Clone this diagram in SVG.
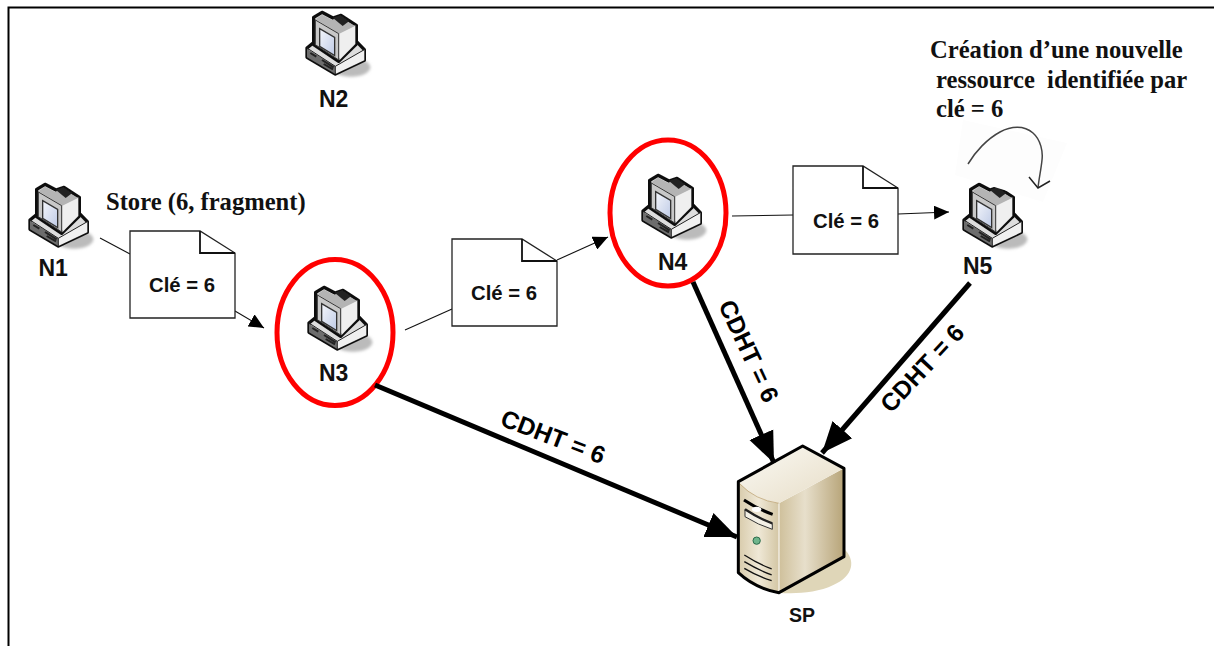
<svg xmlns="http://www.w3.org/2000/svg" width="1214" height="646" viewBox="0 0 1214 646">
<style>
.lab{font-family:"Liberation Sans",Arial,sans-serif;font-weight:700;font-size:23px;fill:#111}
.key{font-family:"Liberation Sans",Arial,sans-serif;font-weight:700;font-size:20.3px;fill:#111}
.cdht{font-family:"Liberation Sans",Arial,sans-serif;font-weight:700;font-size:24.5px;fill:#000}
.ser{font-family:"Liberation Serif","Times New Roman",serif;font-weight:700;font-size:24.6px;fill:#111;white-space:pre}
.thin{fill:none;stroke:#111;stroke-width:1.1}
.thick{fill:none;stroke:#000;stroke-width:5}
.doc{fill:#fff;stroke:#222;stroke-width:1.3}
.fold{fill:none;stroke:#111;stroke-width:1.8}
.ring{fill:#fff;stroke:#f00;stroke-width:5}
</style>
<defs>
<marker id="ah" markerUnits="userSpaceOnUse" markerWidth="16" markerHeight="14" refX="15" refY="7" orient="auto"><path d="M0 0L15 7L0 14Z" fill="#000"/></marker>
<marker id="AH" markerUnits="userSpaceOnUse" markerWidth="32" markerHeight="28" refX="31" refY="14" orient="auto"><path d="M0 1L31 14L0 27Z" fill="#000"/></marker>
<linearGradient id="scr" x1="0" y1="0" x2="1" y2="1"><stop offset="0" stop-color="#f4f6fb"/><stop offset="1" stop-color="#bfcbe6"/></linearGradient>
<linearGradient id="sR" x1="0" y1="0" x2="1" y2="0"><stop offset="0" stop-color="#cfc09b"/><stop offset=".4" stop-color="#e7dfcb"/><stop offset="1" stop-color="#b7a478"/></linearGradient>
<linearGradient id="sT" x1="0" y1="0" x2="1" y2="1"><stop offset="0" stop-color="#fbfaf5"/><stop offset="1" stop-color="#e6dcc5"/></linearGradient>
<linearGradient id="sF" x1="0" y1="0" x2="1" y2="0"><stop offset="0" stop-color="#d8cbab"/><stop offset=".5" stop-color="#efe8d6"/><stop offset="1" stop-color="#d3c6a4"/></linearGradient>
<filter id="sb" x="-30%" y="-50%" width="160%" height="200%"><feGaussianBlur stdDeviation="4"/></filter>
<filter id="sf" x="-5%" y="-5%" width="110%" height="110%"><feGaussianBlur stdDeviation="0.5"/></filter>
<g id="pc" transform="translate(0,170) scale(.3333)">
<ellipse cx="222" cy="208" rx="58" ry="28" fill="#bbb" filter="url(#sb)"/>
<g filter="url(#sf)">
<path d="M90 150L112 132L230 122L262 155L262 187L175 228L90 178Z" fill="#ddd" stroke="#111" stroke-width="10" stroke-linejoin="round"/>
<path d="M90 152L175 205L175 228L90 178Z" fill="#6d6d6d"/>
<path d="M175 205L262 155L262 187L175 228Z" fill="#f0f0f0"/>
<path d="M100 165L118 176M135 186L170 208M140 198L168 214" stroke="#222" stroke-width="6" fill="none"/>
<path d="M90 150L175 205L262 155M175 205V228" stroke="#222" stroke-width="3" fill="none"/>
<path d="M110 58L135 43L168 60L192 52L238 82L238 138L185 190L110 140Z" fill="#d8d8d8" stroke="#111" stroke-width="10" stroke-linejoin="round"/>
<path d="M187 105L235 82L235 138L187 187Z" fill="#efefef"/>
<path d="M116 64L135 50L165 66L190 58L234 84L187 107Z" fill="#b4b4b4"/>
<path d="M168 60L190 52L216 70L197 84Z" fill="#222"/>
<path d="M115 66L185 107L185 186L115 140Z" fill="#c8c8c8" stroke="#333" stroke-width="3"/>
<path d="M128 92L173 118L173 173L128 145Z" fill="url(#scr)" stroke="#333" stroke-width="4"/>
</g>
</g>
</defs>
<rect width="1214" height="646" fill="#fff"/>
<path d="M8.5 646V7.5H1214" fill="none" stroke="#000" stroke-width="2"/>

<g id="N1"><use href="#pc"/><text class="lab" x="38.5" y="276">N1</text></g>
<g id="N2"><use href="#pc" transform="translate(277,-172)"/><text class="lab" x="319" y="107">N2</text></g>
<g id="N3"><ellipse class="ring" cx="335" cy="332.5" rx="58" ry="73"/><use href="#pc" transform="translate(279,103)"/><text class="lab" x="319" y="381">N3</text></g>
<g id="N4"><ellipse class="ring" cx="668" cy="213" rx="58" ry="73"/><use href="#pc" transform="translate(613,-9)"/><text class="lab" x="658" y="270">N4</text></g>
<g id="N5"><use href="#pc" transform="translate(934,0)"/><text class="lab" x="963" y="274">N5</text></g>

<g id="SP">
<g transform="translate(700,420) scale(.3333)">
<path d="M235 518L430 385C470 420 460 470 400 495C350 520 280 522 235 518Z" fill="#dfd6b8"/>
<path d="M237 250L432 145V410L237 518Z" fill="url(#sR)"/>
<path d="M115 185L308 78L432 145L237 250Q165 240 115 185Z" fill="url(#sT)"/>
<path d="M115 185Q165 240 237 250V518Q165 505 115 458Z" fill="url(#sF)"/>
<path d="M120 192Q165 240 237 250" fill="none" stroke="#b79a67" stroke-width="2"/>
<path d="M237 250V518" stroke="#fff" stroke-width="3"/>
<path d="M115 185L308 78L432 145V410L237 518Q165 505 115 458Z" fill="none" stroke="#000" stroke-width="9" stroke-linejoin="round"/>
<path d="M132 240Q175 268 218 283" fill="none" stroke="#000" stroke-width="9"/>
<path d="M135 268Q175 295 217 310V328Q175 315 135 290Z" fill="#f3f0e6" stroke="#333" stroke-width="3"/>
<path d="M135 268Q175 295 217 310" fill="none" stroke="#222" stroke-width="7"/>
<ellipse cx="170" cy="268" rx="14" ry="8" fill="#fff"/>
<circle cx="170" cy="362" r="11" fill="#6fb58c" stroke="#2b6a4a" stroke-width="3"/>
<path d="M133 405Q175 432 215 447M133 425Q175 450 215 465M133 445Q175 470 215 482" fill="none" stroke="#111" stroke-width="4"/>
</g>
<text class="lab" x="789" y="622" style="font-size:19.5px">SP</text>
</g>

<g id="connectors">
<path class="thin" d="M100 238L130 254"/>
<path class="thin" d="M235 311L264 328" marker-end="url(#ah)"/>
<path class="thin" d="M405 330L452 309"/>
<path class="thin" d="M557 260L608 237" marker-end="url(#ah)"/>
<path class="thin" d="M732 216L793 215"/>
<path class="thin" d="M898 214L949 212" marker-end="url(#ah)"/>
<path class="thick" d="M375 385L737 537" marker-end="url(#AH)"/>
<path class="thick" d="M693 282L774 463" marker-end="url(#AH)"/>
<path class="thick" d="M970 283L822 453" marker-end="url(#AH)"/>
</g>

<g id="doc1"><path class="doc" d="M130 231H200L235 253V318H130Z"/><path class="fold" d="M200 231V253H235"/><text class="key" x="149" y="292">Clé = 6</text></g>
<g id="doc2"><path class="doc" d="M452 239H522L557 261V326H452Z"/><path class="fold" d="M522 239V261H557"/><text class="key" x="471" y="300">Clé = 6</text></g>
<g id="doc3"><path class="doc" d="M793 166H863L898 188V254H793Z"/><path class="fold" d="M863 166V188H898"/><text class="key" x="813" y="228">Clé = 6</text></g>

<text class="cdht" transform="translate(499,425) rotate(21)">CDHT = 6</text>
<text class="cdht" transform="translate(718,305) rotate(65)">CDHT = 6</text>
<text class="cdht" transform="translate(891,414) rotate(-47)">CDHT = 6</text>

<text class="ser" x="930" y="58">Création d’une nouvelle</text>
<text class="ser" x="936" y="88">ressource  identifiée par</text>
<text class="ser" x="936" y="117">clé = 6</text>
<text class="ser" x="106" y="210">Store (6, fragment)</text>

<g id="self-loop">
<path d="M963 120L1067 143L1043 202L955 175Z" fill="#fdfdfd"/>
<path d="M968 164C975 152 987 139 1000 132C1011 126 1024 125 1033 133C1041 140 1043 152 1042 160C1041 170 1039 178 1038 188" fill="none" stroke="#444" stroke-width="1.5"/>
<path d="M1029 177L1038 188L1050 181" fill="none" stroke="#222" stroke-width="1.5"/>
</g>
</svg>
